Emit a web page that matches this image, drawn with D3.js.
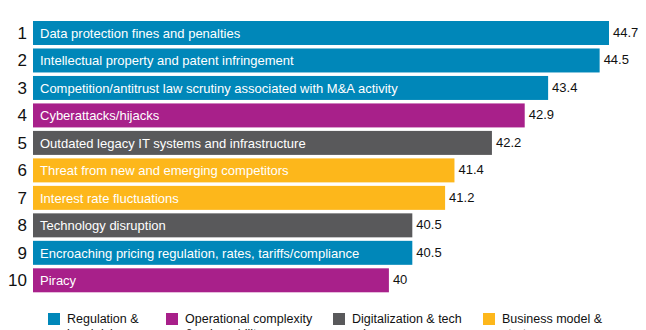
<!doctype html>
<html lang="en">
<head>
<meta charset="UTF-8">
<title>Top risks</title>
<script src="https://d3js.org/d3.v7.min.js"></script>
<style>
  body { margin: 0; background: #fff; }
  text { font-family: "Liberation Sans", Arial, sans-serif; }
</style>
</head>
<body>
<div id="chart"></div>
<script>
// data
var ranks = [1, 2, 3, 4, 5, 6, 7, 8, 9, 10];
var risks = [
  "Data protection fines and penalties",
  "Intellectual property and patent infringement",
  "Competition/antitrust law scrutiny associated with M&A activity",
  "Cyberattacks/hijacks",
  "Outdated legacy IT systems and infrastructure",
  "Threat from new and emerging competitors",
  "Interest rate fluctuations",
  "Technology disruption",
  "Encroaching pricing regulation, rates, tariffs/compliance",
  "Piracy"
];
var scores = [44.7, 44.5, 43.4, 42.9, 42.2, 41.4, 41.2, 40.5, 40.5, 40];
var groups = ["reg", "reg", "reg", "ops", "dig", "biz", "biz", "dig", "reg", "ops"];
var groupKeys = ["reg", "ops", "dig", "biz"];
var groupNames = [
  ["Regulation &", "legal risks"],
  ["Operational complexity", "& vulnerability"],
  ["Digitalization & tech", "advances"],
  ["Business model &", "strategy"]
];
var groupColors = ["#0087b9", "#a8208a", "#59595b", "#fdb71b"];

var width = 646, height = 330;

var svg = d3.select("#chart").append("svg")
  .attr("width", width)
  .attr("height", height);

var x = d3.scaleLinear()
  .domain([32.4, 44.7])
  .range([33, 609]);

var y = d3.scaleBand()
  .domain(ranks)
  .range([21, 292.3])
  .paddingInner(0.127)
  .paddingOuter(0);

var color = d3.scaleOrdinal()
  .domain(groupKeys)
  .range(groupColors);

var rows = svg.selectAll("g.row")
  .data(ranks)
  .enter()
  .append("g")
  .attr("class", "row")
  .attr("transform", function(d) { return "translate(0," + y(d) + ")"; });

rows.append("rect")
  .attr("x", x.range()[0])
  .attr("y", 0)
  .attr("width", function(d, i) { return x(scores[i]) - x.range()[0]; })
  .attr("height", y.bandwidth())
  .attr("fill", function(d, i) { return color(groups[i]); });

// rank numbers
rows.append("text")
  .attr("x", 27)
  .attr("y", y.bandwidth() / 2 + 6)
  .attr("text-anchor", "end")
  .attr("font-size", 17)
  .attr("fill", "#111")
  .text(function(d) { return d; });

// risk label inside bar
rows.append("text")
  .attr("x", 40)
  .attr("y", y.bandwidth() / 2 + 5)
  .attr("font-size", 13)
  .attr("fill", "#fff")
  .text(function(d, i) { return risks[i]; });

// value labels
rows.append("text")
  .attr("x", function(d, i) { return x(scores[i]) + 4; })
  .attr("y", function(d, i) { return y.bandwidth() / 2 + 4; })
  .attr("font-size", 13)
  .attr("fill", "#111")
  .text(function(d, i) { return scores[i]; });

// legend
var legendX = [48, 166, 333, 483];
var legend = svg.selectAll("g.legend")
  .data(groupKeys)
  .enter()
  .append("g")
  .attr("class", "legend")
  .attr("transform", function(d, i) { return "translate(" + legendX[i] + ",313)"; });

legend.append("rect")
  .attr("width", 12)
  .attr("height", 12)
  .attr("fill", function(d) { return color(d); });

legend.each(function(d, i) {
  var t = d3.select(this).append("text")
    .attr("x", 19)
    .attr("y", 10)
    .attr("font-size", 12.5)
    .attr("fill", "#111");
  groupNames[i].forEach(function(line, j) {
    t.append("tspan")
      .attr("x", 19)
      .attr("dy", j === 0 ? 0 : 15)
      .text(line);
  });
});
</script>
</body>
</html>
